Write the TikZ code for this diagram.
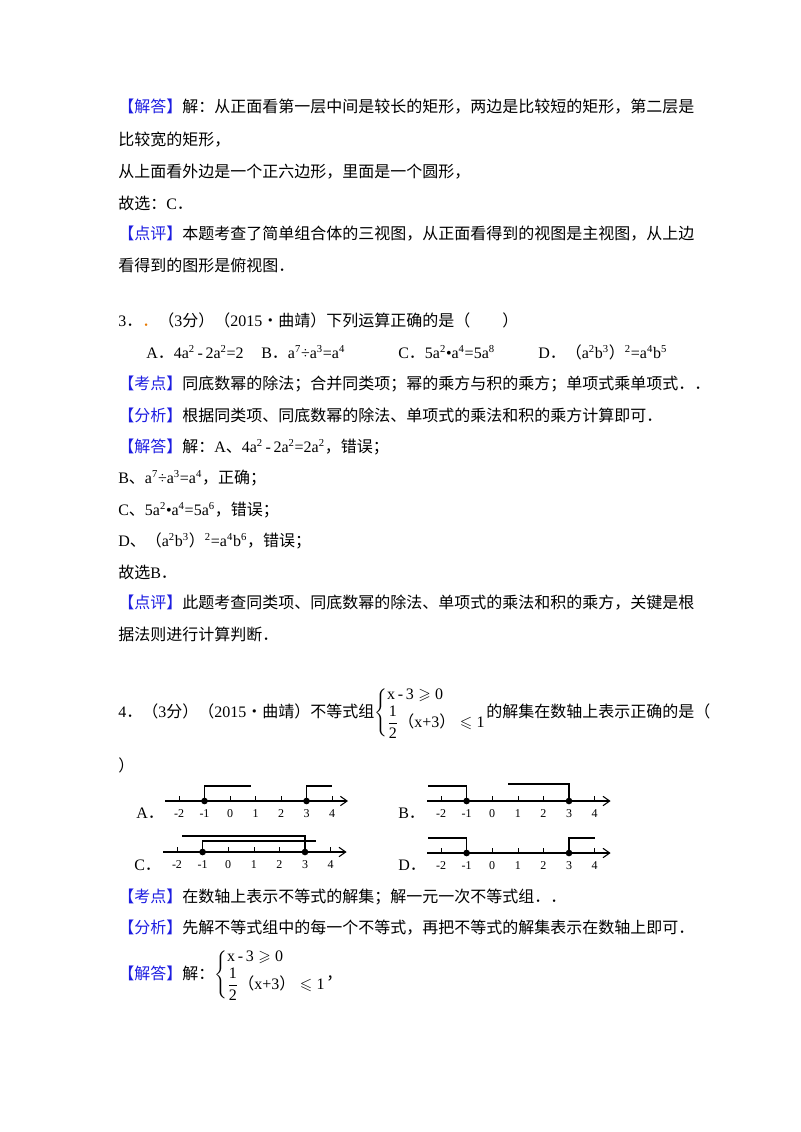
\documentclass[tikz,border=0pt]{standalone}
\usepackage{fontspec}
\usepackage{amsmath,amssymb}
\usetikzlibrary{arrows.meta}
\setmainfont{Noto Sans CJK SC}
\newfontfamily\lr{Liberation Serif}
\newcommand{\en}[1]{{\lr #1}}
\newcommand{\su}[1]{\textsuperscript{\lr #1}}
\definecolor{kb}{RGB}{30,30,225}
\definecolor{od}{RGB}{230,120,0}
\newcommand{\hd}[1]{\textcolor{kb}{【#1】}}
\newcommand{\sys}{$\left\{\renewcommand{\arraystretch}{0.9}\begin{array}{@{}l@{}}\text{\lr x\,-\,3}\geqslant\text{\lr 0}\\[1pt] \displaystyle\frac{\text{\lr 1}}{\text{\lr 2}}\text{（{\lr x+3}）}\leqslant\text{\lr 1}\end{array}\right.$}
\begin{document}
\begin{tikzpicture}[x=0.75pt,y=-0.75pt,
  t/.style={anchor=west,inner sep=0pt,font=\fontsize{12}{14}\selectfont},
  ax/.style={line width=0.8pt,-{Straight Barb[length=5pt,width=7pt]}},
  br/.style={line width=0.8pt},
  tk/.style={line width=0.4pt},
  nl/.style={inner sep=0pt,font=\lr\fontsize{9}{10}\selectfont},
  dot/.style={circle,fill=black,inner sep=0pt,minimum size=5pt}]
\useasboundingbox (0,0) rectangle (800,1132);
\node[t] (l1) at (118,107) {\hd{解答}解：从正面看第一层中间是较长的矩形，两边是比较短的矩形，第二层是};
\node[t] (l2) at (118,140) {比较宽的矩形，};
\node[t] (l3) at (118,172) {从上面看外边是一个正六边形，里面是一个圆形，};
\node[t] (l4) at (118,203) {故选：\en{C}．};
\node[t] (l5) at (118,234) {\hd{点评}本题考查了简单组合体的三视图，从正面看得到的视图是主视图，从上边};
\node[t] (l6) at (118,265) {看得到的图形是俯视图．};
\node[t] (q3) at (118,320) {\en{3}．\textcolor{od}{．}（\en{3}分）（\en{2015}•曲靖）下列运算正确的是（\qquad）};
\node[t] (oA) at (146,352) {\en{A}．\en{4a\su{2}\,-\,2a\su{2}=2}};
\node[t] (oB) at (261,352) {\en{B}．\en{a\su{7}÷a\su{3}=a\su{4}}};
\node[t] (oC) at (398,352) {\en{C}．\en{5a\su{2}•a\su{4}=5a\su{8}}};
\node[t] (oD) at (538,352) {\en{D}．（\en{a\su{2}b\su{3}}）\en{\su{2}=a\su{4}b\su{5}}};
\node[t] (k3) at (118,384) {\hd{考点}同底数幂的除法；合并同类项；幂的乘方与积的乘方；单项式乘单项式．．};
\node[t] (f3) at (118,415) {\hd{分析}根据同类项、同底数幂的除法、单项式的乘法和积的乘方计算即可．};
\node[t] (j1) at (118,447) {\hd{解答}解：\en{A}、\en{4a\su{2}\,-\,2a\su{2}=2a\su{2}}，错误；};
\node[t] (j2) at (118,478) {\en{B}、\en{a\su{7}÷a\su{3}=a\su{4}}，正确；};
\node[t] (j3) at (118,510) {\en{C}、\en{5a\su{2}•a\su{4}=5a\su{6}}，错误；};
\node[t] (j4) at (118,541) {\en{D}、（\en{a\su{2}b\su{3}}）\en{\su{2}=a\su{4}b\su{6}}，错误；};
\node[t] (j5) at (118,572) {故选\en{B}．};
\node[t] (p1) at (118,603) {\hd{点评}此题考查同类项、同底数幂的除法、单项式的乘法和积的乘方，关键是根};
\node[t] (p2) at (118,634) {据法则进行计算判断．};
\node[t] (q4) at (118,713) {\en{4}．（\en{3}分）（\en{2015}•曲靖）不等式组\sys 的解集在数轴上表示正确的是（};
\node[t] (q4b) at (118,765) {）};
% number lines
\foreach \nm/\x/\y/\s in {A/179/801/25.5, B/441/801/25.6, C/177/852/25.6, D/441/853/25.6}{
  \coordinate (\nm s) at ({\x-14},\y);
  \coordinate (\nm e) at ({\x+6*\s+16},\y);
  \draw[ax] (\nm s) -- (\nm e);
  \foreach \i/\lab in {0/-2,1/-1,2/0,3/1,4/2,5/3,6/4}{
    \draw[tk] ({\x+\i*\s},\y) -- ({\x+\i*\s},{\y-5});
    \node[nl] at ({\x+\i*\s},{\y+13}) {\lab};
  }
  \node[dot] (\nm m) at ({\x+\s},\y) {};
  \node[dot] (\nm p) at ({\x+5*\s},\y) {};
}
\node[t] (LA) at (136,813) {\en{A}．};
\node[t] (LB) at (398,813) {\en{B}．};
\node[t] (LC) at (134,865) {\en{C}．};
\node[t] (LD) at (398,865) {\en{D}．};
\draw[br] (Am.center) -- ++(0,-15) -- ++(46,0);
\draw[br] (Ap.center) -- ++(0,-15) -- ++(25,0);
\draw[br] (Bm.center) -- ++(0,-15) -- ++(-39,0);
\draw[br] (Bp.center) -- ++(0,-17) -- ++(-61,0);
\draw[br] (Cp.center) -- ++(0,-16) -- ++(-123,0);
\draw[br] (Cm.center) -- ++(0,-11) -- ++(113,0);
\draw[br] (Dm.center) -- ++(0,-15) -- ++(-39,0);
\draw[br] (Dp.center) -- ++(0,-15) -- ++(26,0);
\node[t] (k4) at (118,897) {\hd{考点}在数轴上表示不等式的解集；解一元一次不等式组．．};
\node[t] (f4) at (118,928) {\hd{分析}先解不等式组中的每一个不等式，再把不等式的解集表示在数轴上即可．};
\node[t] (j6) at (118,975) {\hd{解答}解：\sys ，};
\end{tikzpicture}
\end{document}
